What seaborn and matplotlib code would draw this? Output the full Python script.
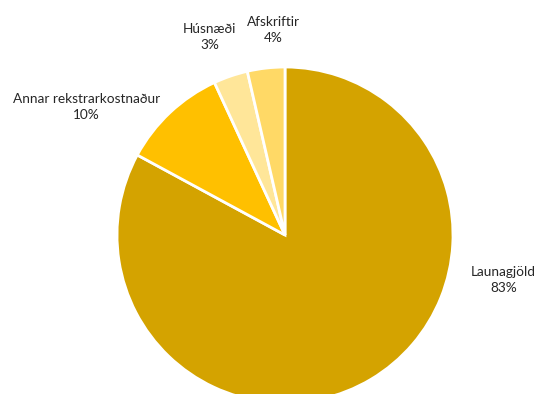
import matplotlib
matplotlib.use("Agg")
import matplotlib.pyplot as plt
import seaborn as sns

# data
categories = ["Launagjöld", "Annar rekstrarkostnaður", "Húsnæði", "Afskriftir"]
shares = [82.9, 10.2, 3.3, 3.6]
colors = ["#D4A300", "#FFC000", "#FFE699", "#FFD966"]

# label placement (data coords of the unit pie)
label_pos = [(1.30, -0.27), (-1.18, 0.76), (-0.45, 1.18), (-0.07, 1.22)]

sns.set_theme(style="white")
plt.rcParams["font.family"] = ["Lato", "DejaVu Sans"]

fig = plt.figure(figsize=(5.48, 3.94), dpi=100)
ax = fig.add_axes([117 / 548, -9 / 394, 336 / 548, 336 / 394])

total = sum(shares)
ax.pie(shares, colors=colors, startangle=90, counterclock=False,
       wedgeprops=dict(edgecolor="white", linewidth=2))
ax.set_xlim(-1, 1)
ax.set_ylim(-1, 1)
ax.set_aspect("equal")

for name, val, (x, y) in zip(categories, shares, label_pos):
    ax.text(x, y, f"{name}\n{val / total * 100:.0f}%", ha="center", va="center",
            fontsize=9.8, color="#262626", linespacing=1.4, clip_on=False)

ax.axis("off")
fig.savefig("out.png", dpi=100)
